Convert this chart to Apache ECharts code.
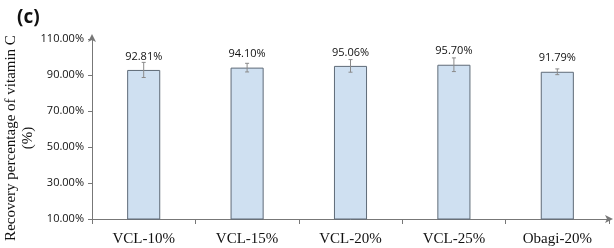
<!DOCTYPE html>
<html>
<head>
<meta charset="utf-8">
<script src="https://cdn.jsdelivr.net/npm/echarts@6/dist/echarts.min.js"></script>
<style>
  html, body { margin: 0; padding: 0; background: #fff; }
  #chart { width: 614px; height: 248px; }
</style>
</head>
<body>
<div id="chart"></div>
<script>
// data
const categories = ["VCL-10%", "VCL-15%", "VCL-20%", "VCL-25%", "Obagi-20%"];
const recovery = [92.81, 94.10, 95.06, 95.70, 91.79];
const errors = [4.2, 2.4, 3.5, 3.8, 1.6];
const yTicks = [10, 30, 50, 70, 90, 110];

const chart = echarts.init(document.getElementById("chart"));

// error bar pieces: [index, low, high]
const errData = recovery.map((v, i) => [i, v - errors[i], v + errors[i]]);

const option = {
  animation: false,
  title: {
    text: "(c)",
    left: 12,
    top: 3,
    textStyle: { fontFamily: "Open Sans", fontWeight: "bold", fontSize: 19, color: "#111" },
  },
  grid: { left: 92, right: 5, top: 39, bottom: 29, containLabel: false, outerBoundsMode: "none" },
  xAxis: {
    type: "category",
    data: categories,
    axisLine: {
      lineStyle: { color: "#777", width: 1 },
      symbol: ["none", "arrow"],
      symbolSize: [6, 8],
      symbolOffset: [0, 4],
    },
    axisTick: { show: true, length: 5, lineStyle: { color: "#777" } },
    axisLabel: { fontFamily: "Liberation Serif", fontSize: 15, color: "#111", margin: 13 },
  },
  yAxis: {
    type: "value",
    min: yTicks[0],
    max: yTicks[yTicks.length - 1],
    interval: 20,
    name: "Recovery percentage of vitamin C\n(%)",
    nameLocation: "middle",
    nameRotate: 90,
    nameGap: 55,
    nameMoveOverlap: false,
    nameTextStyle: {
      fontFamily: "Liberation Serif",
      fontSize: 15,
      color: "#111",
      lineHeight: 17,
      padding: [0, 18, 0, 0],
    },
    axisLine: {
      show: true,
      lineStyle: { color: "#777", width: 1 },
      symbol: ["none", "arrow"],
      symbolSize: [6, 8],
      symbolOffset: [0, 5],
    },
    axisTick: { show: true, length: 4, inside: false, lineStyle: { color: "#777" } },
    splitLine: { show: false },
    axisLabel: {
      fontFamily: "Open Sans",
      fontSize: 11,
      color: "#111",
      margin: 8,
      formatter: (v) => v.toFixed(2) + "%",
    },
  },
  series: [
    {
      type: "bar",
      data: recovery,
      barWidth: "32%",
      itemStyle: { color: "#CFE0F1", borderColor: "#5f6b78", borderWidth: 1 },
      label: {
        show: true,
        position: "top",
        distance: 8,
        fontFamily: "Open Sans",
        fontSize: 11,
        color: "#111",
        formatter: (p) => p.value.toFixed(2) + "%",
      },
      z: 2,
    },
    {
      type: "custom",
      data: errData,
      z: 3,
      renderItem: function (params, api) {
        const x = api.value(0);
        const lo = api.coord([x, api.value(1)]);
        const hi = api.coord([x, api.value(2)]);
        const w = 2;
        const style = { stroke: "#8a8a8a", lineWidth: 1 };
        return {
          type: "group",
          children: [
            { type: "line", shape: { x1: hi[0], y1: hi[1], x2: lo[0], y2: lo[1] }, style },
            { type: "line", shape: { x1: hi[0] - w, y1: hi[1], x2: hi[0] + w, y2: hi[1] }, style },
            { type: "line", shape: { x1: lo[0] - w, y1: lo[1], x2: lo[0] + w, y2: lo[1] }, style },
          ],
        };
      },
    },
  ],
};

chart.setOption(option);
</script>
</body>
</html>
